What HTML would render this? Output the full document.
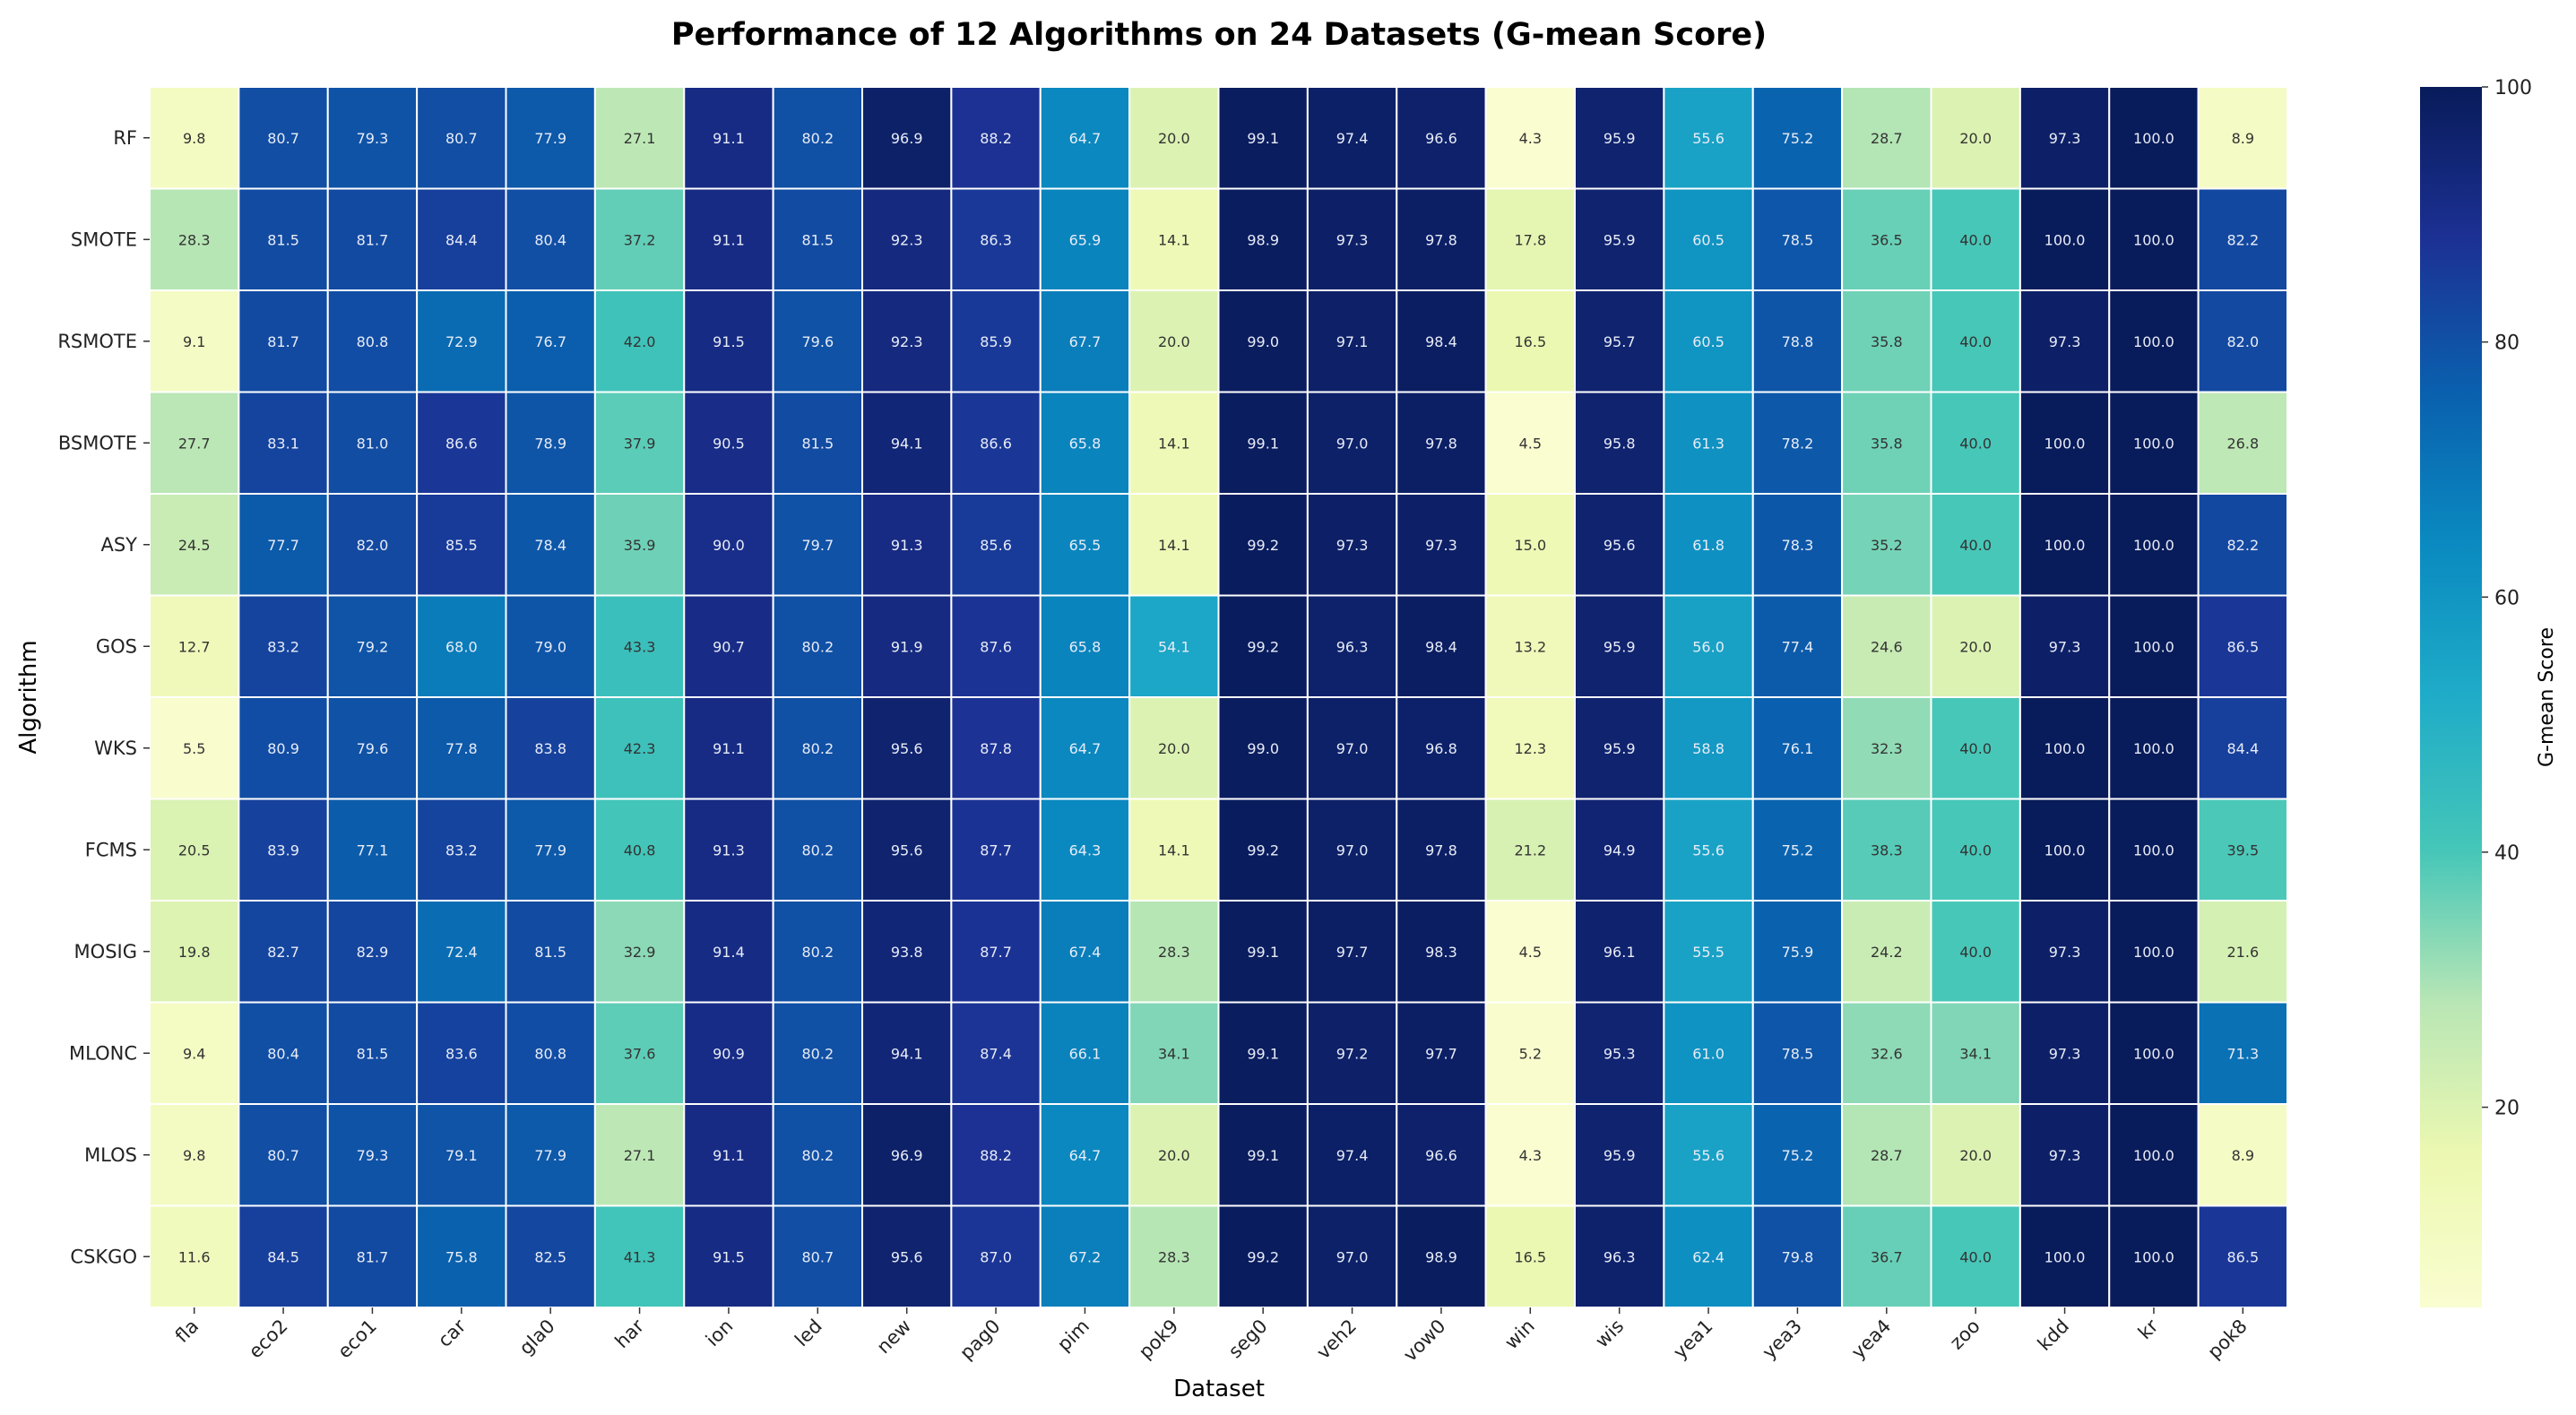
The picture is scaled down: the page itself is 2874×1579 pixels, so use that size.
<!DOCTYPE html>
<html><head><meta charset="utf-8"><style>
body{margin:0;background:#fff;}
svg{display:block;font-family:"DejaVu Sans","Liberation Sans",sans-serif;}
</style></head><body>
<svg id="chart" width="2874" height="1579" viewBox="0 0 2874 1579" xmlns="http://www.w3.org/2000/svg">
<text x="1360" y="50" text-anchor="middle" font-size="35" font-weight="bold" fill="#000">Performance of 12 Algorithms on 24 Datasets (G-mean Score)</text>
<text x="1360" y="1558" text-anchor="middle" font-size="26" fill="#000">Dataset</text>
<text transform="translate(40,778) rotate(-90)" text-anchor="middle" font-size="26" fill="#000">Algorithm</text>
<text transform="translate(2848,778) rotate(-90)" text-anchor="middle" font-size="22" fill="#000">G-mean Score</text>
<defs><linearGradient id="cbgrad" x1="0" y1="1" x2="0" y2="0"></linearGradient></defs>
<g id="cells"></g><g id="axes"></g>
</svg>
<script>
const datasets=["fla","eco2","eco1","car","gla0","har","ion","led","new","pag0","pim","pok9","seg0","veh2","vow0","win","wis","yea1","yea3","yea4","zoo","kdd","kr","pok8"];
const algorithms=["RF","SMOTE","RSMOTE","BSMOTE","ASY","GOS","WKS","FCMS","MOSIG","MLONC","MLOS","CSKGO"];
const rowRF=[9.8,80.7,79.3,80.7,77.9,27.1,91.1,80.2,96.9,88.2,64.7,20.0,99.1,97.4,96.6,4.3,95.9,55.6,75.2,28.7,20.0,97.3,100.0,8.9];
const rowSMOTE=[28.3,81.5,81.7,84.4,80.4,37.2,91.1,81.5,92.3,86.3,65.9,14.1,98.9,97.3,97.8,17.8,95.9,60.5,78.5,36.5,40.0,100.0,100.0,82.2];
const rowRSMOTE=[9.1,81.7,80.8,72.9,76.7,42.0,91.5,79.6,92.3,85.9,67.7,20.0,99.0,97.1,98.4,16.5,95.7,60.5,78.8,35.8,40.0,97.3,100.0,82.0];
const rowBSMOTE=[27.7,83.1,81.0,86.6,78.9,37.9,90.5,81.5,94.1,86.6,65.8,14.1,99.1,97.0,97.8,4.5,95.8,61.3,78.2,35.8,40.0,100.0,100.0,26.8];
const rowASY=[24.5,77.7,82.0,85.5,78.4,35.9,90.0,79.7,91.3,85.6,65.5,14.1,99.2,97.3,97.3,15.0,95.6,61.8,78.3,35.2,40.0,100.0,100.0,82.2];
const rowGOS=[12.7,83.2,79.2,68.0,79.0,43.3,90.7,80.2,91.9,87.6,65.8,54.1,99.2,96.3,98.4,13.2,95.9,56.0,77.4,24.6,20.0,97.3,100.0,86.5];
const rowWKS=[5.5,80.9,79.6,77.8,83.8,42.3,91.1,80.2,95.6,87.8,64.7,20.0,99.0,97.0,96.8,12.3,95.9,58.8,76.1,32.3,40.0,100.0,100.0,84.4];
const rowFCMS=[20.5,83.9,77.1,83.2,77.9,40.8,91.3,80.2,95.6,87.7,64.3,14.1,99.2,97.0,97.8,21.2,94.9,55.6,75.2,38.3,40.0,100.0,100.0,39.5];
const rowMOSIG=[19.8,82.7,82.9,72.4,81.5,32.9,91.4,80.2,93.8,87.7,67.4,28.3,99.1,97.7,98.3,4.5,96.1,55.5,75.9,24.2,40.0,97.3,100.0,21.6];
const rowMLONC=[9.4,80.4,81.5,83.6,80.8,37.6,90.9,80.2,94.1,87.4,66.1,34.1,99.1,97.2,97.7,5.2,95.3,61.0,78.5,32.6,34.1,97.3,100.0,71.3];
const rowMLOS=[9.8,80.7,79.3,79.1,77.9,27.1,91.1,80.2,96.9,88.2,64.7,20.0,99.1,97.4,96.6,4.3,95.9,55.6,75.2,28.7,20.0,97.3,100.0,8.9];
const rowCSKGO=[11.6,84.5,81.7,75.8,82.5,41.3,91.5,80.7,95.6,87.0,67.2,28.3,99.2,97.0,98.9,16.5,96.3,62.4,79.8,36.7,40.0,100.0,100.0,86.5];
const values=[rowRF,rowSMOTE,rowRSMOTE,rowBSMOTE,rowASY,rowGOS,rowWKS,rowFCMS,rowMOSIG,rowMLONC,rowMLOS,rowCSKGO];
const cbTicks=[20,40,60,80,100];

const NS="http://www.w3.org/2000/svg";
const X0=167,X1=2552,Y0=97,Y1=1459;
const vmin=4.3,vmax=100;
const cw=(X1-X0)/datasets.length,ch=(Y1-Y0)/algorithms.length;
const xPos=i=>X0+i*cw, yPos=j=>Y0+j*ch;
const stops=[[0,[250,253,208]],[0.125,[236,248,177]],[0.25,[184,230,181]],[0.375,[69,198,184]],[0.5,[31,172,200]],[0.625,[10,138,192]],[0.75,[10,96,174]],[0.875,[28,49,148]],[1,[8,27,90]]];
function color(v){let t=Math.max(0,Math.min(1,(v-vmin)/(vmax-vmin)));
for(let k=1;k<stops.length;k++){if(t<=stops[k][0]){const a=stops[k-1],b=stops[k];const f=(t-a[0])/(b[0]-a[0]);
return "rgb("+a[1].map((c,i)=>Math.round(c+(b[1][i]-c)*f)).join(",")+")";}}return "rgb(8,27,90)";}
function mk(tag,attrs,parent){const e=document.createElementNS(NS,tag);for(const k in attrs)e.setAttribute(k,attrs[k]);parent.appendChild(e);return e;}
const cells=document.getElementById("cells"),axes=document.getElementById("axes");
values.forEach((row,j)=>row.forEach((v,i)=>{
 const r=mk("rect",{x:xPos(i),y:yPos(j),width:cw,height:ch,fill:color(v),stroke:"#fff","stroke-width":2},cells);
 
 
 const t=mk("text",{x:xPos(i)+cw/2,y:yPos(j)+ch/2+6,"text-anchor":"middle","font-size":16,fill:v>=50?"#e8ecf6":"#333"},cells);
 t.textContent=v.toFixed(1);
 
 
}));
algorithms.forEach((a,j)=>{
 const y=yPos(j)+ch/2;
 mk("line",{x1:X0-7,x2:X0,y1:y,y2:y,stroke:"#333","stroke-width":1.5},axes);
 const t=mk("text",{x:X0-14,y:y+7,"text-anchor":"end","font-size":21,fill:"#222"},axes);
 t.textContent=a;
 
 
});
datasets.forEach((d,i)=>{
 const x=xPos(i)+cw/2;
 mk("line",{x1:x,x2:x,y1:Y1,y2:Y1+7,stroke:"#333","stroke-width":1.5},axes);
 const t=mk("text",{transform:"translate("+(x+6)+","+(Y1+22)+") rotate(-45)","text-anchor":"end","font-size":21,fill:"#222"},axes);
 t.textContent=d;
 
 
});
// colorbar
const g=document.getElementById("cbgrad");
stops.forEach(s=>mk("stop",{offset:s[0],"stop-color":color(vmin+s[0]*(vmax-vmin))},g));
const CX0=2700,CX1=2769;
const cb=mk("rect",{x:CX0,y:Y0,width:CX1-CX0,height:Y1-Y0,fill:"url(#cbgrad)"},axes);


const cbY=v=>Y1-(v-vmin)/(vmax-vmin)*(Y1-Y0);
cbTicks.forEach(v=>{
 const y=cbY(v);
 mk("line",{x1:CX1,x2:CX1+7,y1:y,y2:y,stroke:"#333","stroke-width":1.5},axes);
 const t=mk("text",{x:CX1+14,y:y+8,"font-size":22,fill:"#222"},axes);
 t.textContent=v;
 
 
});
</script>
</body></html>
